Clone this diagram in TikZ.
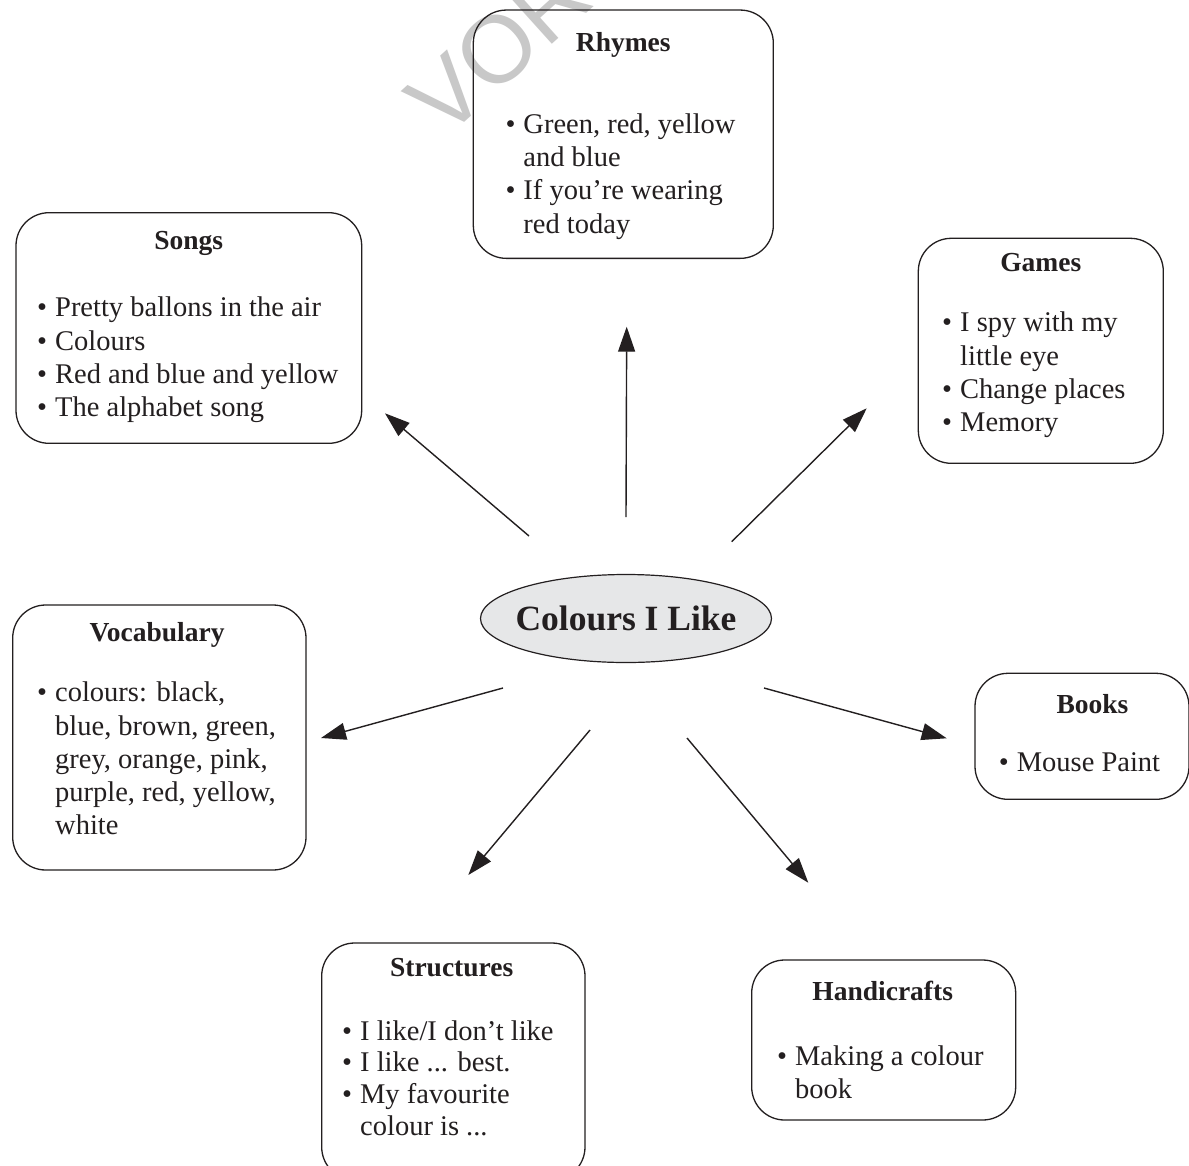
\documentclass[tikz,border=0pt]{standalone}
\usepackage{fontspec}
\setmainfont{Liberation Serif}
\newfontfamily\wmfont{Liberation Sans}
\usetikzlibrary{arrows.meta,shapes.geometric}
\definecolor{ink}{HTML}{231F20}
\definecolor{ellfill}{HTML}{E6E7E8}
\definecolor{wmgray}{HTML}{C8C8C8}
\newcommand{\bodyfont}{\fontsize{28.5}{33.3}\selectfont}
\newcommand{\tightbodyfont}{\fontsize{28.5}{31.7}\selectfont}
\newcommand{\titlefont}{\fontsize{27.5}{33}\selectfont\bfseries}
\newcommand{\bl}{\textbullet}
\tikzset{
  box/.style={draw=ink, line width=1.3pt, rounded corners=33pt, inner sep=0pt},
  ttl/.style={anchor=base, inner sep=0pt, text=ink, font=\titlefont},
  bdy/.style={anchor=base west, inner sep=0pt, text=ink, font=\bodyfont},
  arr/.style={draw=ink, line width=1.4pt, -{Triangle[length=25pt,width=17pt]}},
}
\begin{document}
\begin{tikzpicture}[x=1pt,y=-1pt]
\useasboundingbox (0,0) rectangle (1189,1165);
\clip (0,0) rectangle (1189,1165);
\fill[white] (0,0) rectangle (1189,1165);

% watermark
\node[rotate=42, anchor=base west, text=wmgray, font=\wmfont\fontsize{95}{95}\selectfont, inner sep=0pt] (wmk) at (444,141) {VOR};

% boxes
\node[box, minimum width=300pt, minimum height=248.3pt] (rhymes) at (623.3,134.2) {};
\node[box, minimum width=345.7pt, minimum height=230.6pt] (songs) at (188.85,328) {};
\node[box, minimum width=245pt, minimum height=225pt] (games) at (1040.8,350.8) {};
\node[box, minimum width=293.3pt, minimum height=265pt] (vocab) at (159.35,737.5) {};
\node[box, minimum width=214pt, minimum height=126pt] (books) at (1082,736.3) {};
\node[box, minimum width=263.3pt, minimum height=237pt] (struct) at (453.35,1061.5) {};
\node[box, minimum width=264pt, minimum height=160pt] (handi) at (883.7,1040) {};

% titles
\node[ttl] (rhymesT) at (623.3,51.7) {Rhymes};
\node[ttl] (songsT) at (188.8,249) {Songs};
\node[ttl] (gamesT) at (1040.8,271.7) {Games};
\node[ttl] (vocabT) at (157,641.7) {Vocabulary};
\node[ttl] (booksT) at (1092.5,713.3) {Books};
\node[ttl] (structT) at (451.7,976) {Structures};
\node[ttl] (handiT) at (882.7,1000) {Handicrafts};

% bodies
\node[bdy] (rhymesB) at (505.3,133.3) {\begin{tabular}[t]{@{}l@{\hspace{8pt}}l@{}}
\bl & Green, red, yellow\\ & and blue\\ \bl & If you’re wearing\\ & red today\end{tabular}};
\node[bdy] (songsB) at (37,316.7) {\begin{tabular}[t]{@{}l@{\hspace{8pt}}l@{}}
\bl & Pretty ballons in the air\\ \bl & Colours\\ \bl & Red and blue and yellow\\ \bl & The alphabet song\end{tabular}};
\node[bdy] (gamesB) at (942,331.7) {\begin{tabular}[t]{@{}l@{\hspace{8pt}}l@{}}
\bl & I spy with my\\ & little eye\\ \bl & Change places\\ \bl & Memory\end{tabular}};
\node[bdy] (vocabB) at (37,701.7) {\begin{tabular}[t]{@{}l@{\hspace{8pt}}l@{}}
\bl & colours: black,\\ & blue, brown, green,\\ & grey, orange, pink,\\ & purple, red, yellow,\\ & white\end{tabular}};
\node[bdy] (booksB) at (998.7,771.7) {\begin{tabular}[t]{@{}l@{\hspace{8pt}}l@{}}
\bl & Mouse Paint\end{tabular}};
\node[bdy, font=\tightbodyfont] (structB) at (342,1040) {\begin{tabular}[t]{@{}l@{\hspace{8pt}}l@{}}
\bl & I like/I don’t like\\ \bl & I like ... best.\\ \bl & My favourite\\ & colour is ...\end{tabular}};
\node[bdy] (handiB) at (777,1065) {\begin{tabular}[t]{@{}l@{\hspace{8pt}}l@{}}
\bl & Making a colour\\ & book\end{tabular}};

% centre
\node[ellipse, draw=ink, fill=ellfill, line width=1.2pt, minimum width=291pt, minimum height=88pt, inner sep=0pt] (centre) at (626,618.5) {};
\node[inner sep=0pt, text=ink, font=\fontsize{35.5}{40}\selectfont\bfseries] (centreT) at (centre.center) {Colours I Like};

% arrow end points
\coordinate (s1) at (626,517);    \coordinate (t1) at (626.7,326.7);
\coordinate (s2) at (529,536);    \coordinate (t2) at (385,413.3);
\coordinate (s3) at (731.7,541.7);\coordinate (t3) at (866.7,408.3);
\coordinate (s4) at (503,688);    \coordinate (t4) at (321,738);
\coordinate (s5) at (764,688);    \coordinate (t5) at (946.7,738.3);
\coordinate (s6) at (590,730);    \coordinate (t6) at (468.3,875);
\coordinate (s7) at (687,738);    \coordinate (t7) at (808.3,882.7);

\draw[arr] (s1) -- (t1);
\draw[arr] (s2) -- (t2);
\draw[arr] (s3) -- (t3);
\draw[arr] (s4) -- (t4);
\draw[arr] (s5) -- (t5);
\draw[arr] (s6) -- (t6);
\draw[arr] (s7) -- (t7);
\end{tikzpicture}
\end{document}
